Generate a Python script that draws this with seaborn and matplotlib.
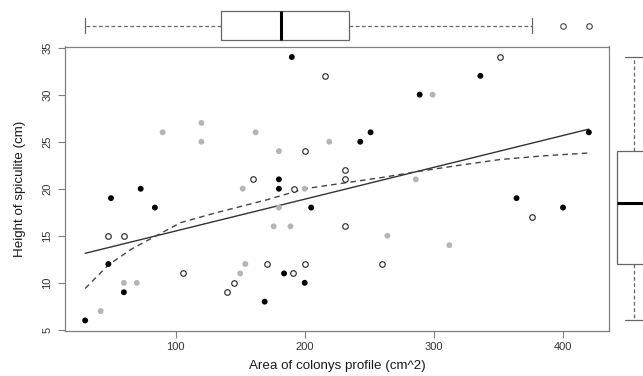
import numpy as np
import pandas as pd
import matplotlib
matplotlib.use("Agg")
import matplotlib.pyplot as plt
import seaborn as sns

sns.set_theme(style="white")
plt.rcParams['font.family'] = ['Liberation Sans', 'DejaVu Sans']

# Colony area (cm^2) and spiculite height (cm), split by marker type.
# Two points are hidden under others (the marginal boxes imply 60 colonies).
black_area = [30, 48, 50, 60, 73, 84, 169, 180, 180, 184, 190, 200, 205, 243, 251, 289, 336, 364, 400, 420]
black_height = [6, 12, 19, 9, 20, 18, 8, 21, 20, 11, 34, 10, 18, 25, 26, 30, 32, 19, 18, 26]

gray_area = [42, 60, 70, 90, 120, 120, 150, 152, 154, 162, 176, 180, 180, 189, 200, 219, 264, 286, 286, 299, 312]
gray_height = [7, 10, 10, 26, 27, 25, 11, 20, 12, 26, 16, 24, 18, 16, 20, 25, 15, 21, 21, 30, 14]

open_area = [48, 60, 106, 140, 145, 160, 160, 171, 191, 192, 200, 200, 216, 231, 231, 231, 260, 351, 376]
open_height = [15, 15, 11, 9, 10, 21, 21, 12, 11, 20, 24, 12, 32, 22, 21, 16, 12, 34, 17]

# Smoother (dashed line)
smooth_area = [30, 48, 66, 85, 104, 130, 150, 170, 200, 230, 260, 286, 320, 351, 385, 420]
smooth_height = [9.4, 11.9, 13.6, 15.0, 16.4, 17.4, 18.1, 18.8, 20.0, 20.6, 21.2, 21.8, 22.5, 23.1, 23.5, 23.8]

df = pd.DataFrame({
    'area': black_area + gray_area + open_area,
    'height': black_height + gray_height + open_height,
    'group': ['black'] * len(black_area) + ['gray'] * len(gray_area) + ['open'] * len(open_area),
})

# R-style limits: data range padded by 4%
xr = df['area'].max() - df['area'].min()
yr = df['height'].max() - df['height'].min()
xlim = (df['area'].min() - 0.04 * xr, df['area'].max() + 0.04 * xr)
ylim = (df['height'].min() - 0.04 * yr, df['height'].max() + 0.04 * yr)

W, H = 643, 376
fig = plt.figure(figsize=(W / 100, H / 100), dpi=100)
ax = fig.add_axes([65 / W, (H - 331) / H, 544 / W, 284.5 / H])
ax_top = fig.add_axes([65 / W, (H - 46) / H, 544 / W, 41 / H])
ax_right = fig.add_axes([612 / W, (H - 331) / H, 44 / W, 284.5 / H])

frame_col = '#808080'

# main scatter (drop exact repeats so overlapping markers are drawn once)
pts = df.drop_duplicates()
sns.scatterplot(data=pts[pts['group'] != 'open'], x='area', y='height', hue='group',
                palette={'black': 'black', 'gray': '#b5b5b5'}, s=18, linewidth=0,
                legend=False, ax=ax, zorder=3)
sns.scatterplot(data=pts[pts['group'] == 'open'], x='area', y='height', marker='o',
                color='white', edgecolor='#222222', linewidth=0.8, s=16, ax=ax, zorder=3)

# linear fit and smoother
sns.regplot(data=df, x='area', y='height', scatter=False, ci=None, truncate=True,
            color='#333333', line_kws={'lw': 1.0}, ax=ax)
sns.lineplot(x=smooth_area, y=smooth_height, color='#444444', lw=1.0,
             linestyle=(0, (4, 3)), ax=ax)

ax.set_xlim(xlim)
ax.set_ylim(ylim)
ax.set_xticks([100, 200, 300, 400])
ax.set_yticks([5, 10, 15, 20, 25, 30, 35])
for sp in ax.spines.values():
    sp.set_color(frame_col)
    sp.set_linewidth(0.9)
ax.tick_params(bottom=True, left=True, direction='out', length=5, width=0.8,
               color=frame_col, labelsize=8, labelcolor='#333333')
ax.tick_params(axis='x', pad=3)
ax.tick_params(axis='y', pad=4, labelrotation=90)
for lbl in ax.get_yticklabels():
    lbl.set_va('center')

ax.set_xlabel('Area of colonys profile (cm^2)', fontsize=9.6, color='#1a1a1a')
ax.set_ylabel('Height of spiculite (cm)', fontsize=9.6, color='#1a1a1a')
ax.xaxis.label.set_va('center')
ax.yaxis.label.set_va('center')
ax.xaxis.set_label_coords(0.5, (331 - 366) / 284.5)
ax.yaxis.set_label_coords((20 - 65) / 544, 0.5)

# marginal boxplots
box_kws = dict(color='white', linecolor='#666666', linewidth=0.9,
               whiskerprops={'linestyle': (0, (3, 2))},
               medianprops={'color': 'black', 'linewidth': 2.2},
               flierprops={'marker': 'o', 'markersize': 4, 'markerfacecolor': 'none',
                           'markeredgecolor': '#444444', 'markeredgewidth': 0.8})

sns.boxplot(x=df['area'], ax=ax_top, width=0.73, **box_kws)
ax_top.set_xlim(xlim)
ax_top.set_ylim(0.5, -0.5)
ax_top.axis('off')

sns.boxplot(y=df['height'], ax=ax_right, width=0.786, **box_kws)
ax_right.set_ylim(ylim)
ax_right.set_xlim(-0.5, 0.5)
ax_right.axis('off')

fig.savefig('out.png', dpi=100)
